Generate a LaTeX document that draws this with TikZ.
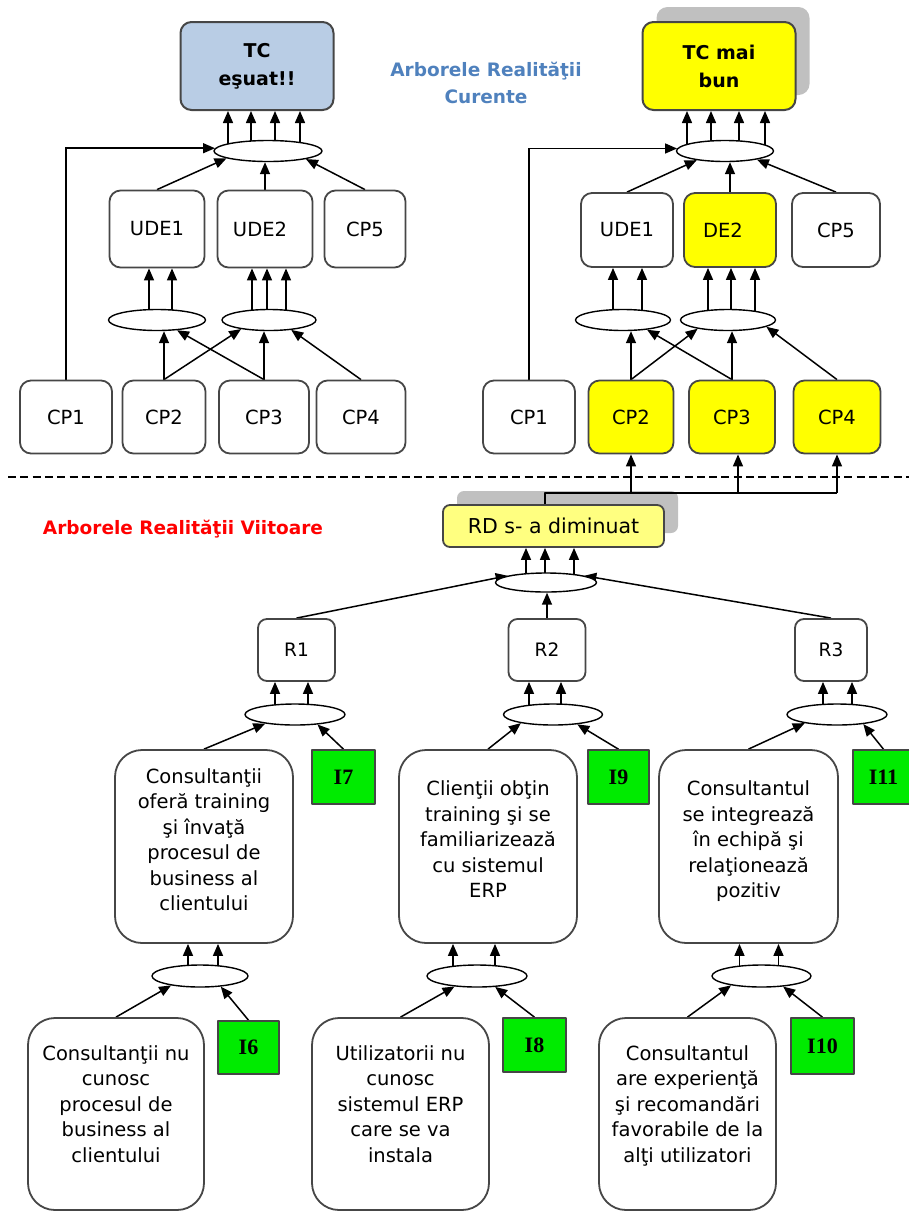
\documentclass[tikz,border=0pt]{standalone}
\usepackage{fontspec}
\setmainfont{DejaVu Sans}
\newfontfamily\ilabel{Liberation Serif}
\usetikzlibrary{shapes.geometric,arrows.meta,shadows,backgrounds,calc}

\definecolor{tcblue}{RGB}{185,205,229}
\definecolor{hiyellow}{RGB}{255,255,0}
\definecolor{paleyellow}{RGB}{255,255,128}
\definecolor{injgreen}{RGB}{0,235,0}
\definecolor{titleblue}{RGB}{79,129,189}
\definecolor{boxline}{RGB}{70,70,70}
\definecolor{shadowgray}{RGB}{192,192,192}

\tikzset{
  box/.style={draw=boxline, line width=1.8pt, rounded corners=11pt, fill=white,
    inner sep=0pt, align=center, font=\fontsize{19.5}{25.5}\selectfont},
  bigbox/.style={box, rounded corners=27pt},
  tcbox/.style={box, line width=2pt, minimum width=153pt, minimum height=88pt,
    font=\bfseries\fontsize{19}{28}\selectfont},
  junction/.style={ellipse, draw=black, line width=1.4pt, fill=white,
    inner sep=0pt, minimum height=21pt},
  inj/.style={draw=boxline, line width=1.6pt, fill=injgreen, inner sep=0pt,
    font=\ilabel\bfseries\fontsize{22}{22}\selectfont},
  arr/.style={-{Triangle[length=12pt,width=10pt]}, line width=1.5pt},
  grayshadow/.style={copy shadow={shadow xshift=14pt, shadow yshift=#1,
    fill=shadowgray, draw=none}},
}

% vertical arrows from a junction up to the box above it
\newcommand{\uparrows}[3]{%
  \foreach \dx in {#3} {
    \coordinate (p) at ($(#1)+(\dx,0)$);
    \draw[arr] (p) -- (p |- #2.south);
  }}

\begin{document}
\begin{tikzpicture}[x=1pt,y=-1pt,line join=round]
\useasboundingbox (0,0) rectangle (909,1211);

% current reality tree
\node[tcbox, fill=tcblue] (tcL) at (257,66) {TC\\eşuat!!};
\node[junction, minimum width=108pt] (elTL) at (268,151) {};
\node[box, minimum width=95pt, minimum height=77pt] (udeL1) at (157,229) {UDE1};
\node[box, minimum width=95pt, minimum height=77pt] (udeL2) at (265,229) {UDE2\hspace*{10pt}};
\node[box, minimum width=81pt, minimum height=77pt] (cp5L) at (365,229) {CP5};
\node[junction, minimum width=97pt] (elL1) at (157,320) {};
\node[junction, minimum width=94pt] (elL2) at (269,320) {};
\node[box, minimum width=92pt, minimum height=73pt] (cpL1) at (66,417) {CP1};
\node[box, minimum width=83pt, minimum height=73pt] (cpL2) at (164,417) {CP2};
\node[box, minimum width=90pt, minimum height=73pt] (cpL3) at (264,417) {CP3};
\node[box, minimum width=89pt, minimum height=73pt] (cpL4) at (361,417) {CP4};

\node[font=\bfseries\fontsize{18.5}{26.5}\selectfont, text=titleblue, align=center]
  (curTitle) at (486,83) {Arborele Realităţii\\Curente};

% improved tree
\node[tcbox, fill=hiyellow, grayshadow=15pt] (tcR) at (719,66) {TC mai\\bun};
\node[junction, minimum width=97pt] (elTR) at (725,151) {};
\node[box, minimum width=92pt, minimum height=74pt] (udeR1) at (627,230) {UDE1};
\node[box, fill=hiyellow, minimum width=92pt, minimum height=74pt] (de2) at (730,230) {DE2\hspace*{14pt}};
\node[box, minimum width=88pt, minimum height=74pt] (cp5R) at (836,230) {CP5};
\node[junction, minimum width=95pt] (elR1) at (623,320) {};
\node[junction, minimum width=95pt] (elR2) at (728,320) {};
\node[box, minimum width=92pt, minimum height=73pt] (cpR1) at (529,417) {CP1};
\node[box, fill=hiyellow, minimum width=85pt, minimum height=73pt] (cpR2) at (631,417) {CP2};
\node[box, fill=hiyellow, minimum width=86pt, minimum height=73pt] (cpR3) at (732,417) {CP3};
\node[box, fill=hiyellow, minimum width=87pt, minimum height=73pt] (cpR4) at (837,417) {CP4};

\draw[line width=1.8pt, dash pattern=on 8pt off 4.3pt] (8,477) -- (909,477);

% future reality tree
\node[font=\bfseries\fontsize{18.5}{22}\selectfont, text=red] (futTitle) at (183,529)
  {Arborele Realităţii Viitoare};

\node[box, fill=paleyellow, rounded corners=7pt, grayshadow=14pt, minimum width=221pt,
  minimum height=42pt, font=\fontsize{20.5}{24}\selectfont] (rd) at (553.5,526) {RD s- a diminuat};
\node[junction, minimum width=101pt, minimum height=19pt] (elRD) at (546,582.5) {};
\node[box, rounded corners=9pt, minimum width=77pt, minimum height=62pt,
  font=\fontsize{18.5}{22}\selectfont] (r1) at (296.5,650) {R1};
\node[box, rounded corners=9pt, minimum width=77pt, minimum height=62pt,
  font=\fontsize{18.5}{22}\selectfont] (r2) at (547,650) {R2};
\node[box, rounded corners=9pt, minimum width=72pt, minimum height=62pt,
  font=\fontsize{18.5}{22}\selectfont] (r3) at (831,650) {R3};

\node[junction, minimum width=100pt] (elA) at (295,714.5) {};
\node[junction, minimum width=99pt] (elB) at (553,714.5) {};
\node[junction, minimum width=100pt] (elC) at (837,714.5) {};

\node[bigbox, text depth=14pt, minimum width=178pt, minimum height=193pt] (boxA) at (204,846.5)
  {Consultanţii\\oferă training\\şi învaţă\\procesul de\\business al\\clientului};
\node[bigbox, text depth=14pt, minimum width=178pt, minimum height=193pt] (boxB) at (488,846.5)
  {Clienţii obţin\\training şi se\\familiarizează\\cu sistemul\\ERP};
\node[bigbox, text depth=14pt, minimum width=179pt, minimum height=193pt] (boxC) at (748.5,846.5)
  {Consultantul\\se integrează\\în echipă şi\\relaţionează\\pozitiv};
\node[inj, minimum width=63pt, minimum height=54pt] (i7) at (343.5,777) {I7};
\node[inj, minimum width=61pt, minimum height=54pt] (i9) at (618.5,777) {I9};
\node[inj, minimum width=61pt, minimum height=54pt] (i11) at (883.5,777) {I11};

\node[junction, minimum width=96pt, minimum height=22pt] (elD) at (200,976) {};
\node[junction, minimum width=100pt, minimum height=22pt] (elE) at (477,976) {};
\node[junction, minimum width=99pt, minimum height=22pt] (elF) at (761.5,976) {};

\node[bigbox, text depth=20pt, minimum width=176pt, minimum height=192pt] (boxD) at (116,1114)
  {Consultanţii nu\\cunosc\\procesul de\\business al\\clientului};
\node[bigbox, text depth=20pt, minimum width=177pt, minimum height=192pt] (boxE) at (400.5,1114)
  {Utilizatorii nu\\cunosc\\sistemul ERP\\care se va\\instala};
\node[bigbox, text depth=20pt, minimum width=177pt, minimum height=192pt] (boxF) at (687.5,1114)
  {Consultantul\\are experienţă\\şi recomandări\\favorabile de la\\alţi utilizatori};
\node[inj, minimum width=61pt, minimum height=53pt] (i6) at (248.5,1047.5) {I6};
\node[inj, minimum width=63pt, minimum height=54pt] (i8) at (534.5,1045) {I8};
\node[inj, minimum width=63pt, minimum height=56pt] (i10) at (822.5,1046) {I10};

\begin{scope}[on background layer]
\uparrows{elTL}{tcL}{-40,-17,7,32}
\draw[arr] (cpL1.north) |- (elTL.177);
\draw[arr] (udeL1.north) -- (elTL.190);
\draw[arr] (udeL2.north) -- (udeL2.north |- elTL.south);
\draw[arr] (cp5L.north) -- (elTL.348);
\uparrows{elL1}{udeL1}{-8,15}
\uparrows{elL2}{udeL2}{-17,-2,17}
\draw[arr] (cpL2.north) -- (cpL2.north |- elL1.south);
\draw[arr] (cpL2.north) -- (elL2.198);
\draw[arr] (cpL3.north) -- (elL1.333);
\draw[arr] (cpL3.north) -- (cpL3.north |- elL2.south);
\draw[arr] (cpL4.north) -- (elL2.336);

\uparrows{elTR}{tcR}{-38,-14,14,40}
\draw[arr] (cpR1.north) |- (elTR.177);
\draw[arr] (udeR1.north) -- (elTR.198);
\draw[arr] (de2.north) -- (de2.north |- elTR.south);
\draw[arr] (cp5R.north) -- (elTR.345);
\uparrows{elR1}{udeR1}{-10,19}
\uparrows{elR2}{de2}{-20,3,27}
\draw[arr] (cpR2.north) -- (cpR2.north |- elR1.south);
\draw[arr] (cpR2.north) -- (elR2.196);
\draw[arr] (cpR3.north) -- (elR1.338);
\draw[arr] (cpR3.north) -- (cpR3.north |- elR2.south);
\draw[arr] (cpR4.north) -- (elR2.350);

\uparrows{elRD}{rd}{-20,-1,28}
\draw[arr] (r1.north) -- (elRD.170);
\draw[arr] (r2.north) -- (r2.north |- elRD.south);
\draw[arr] (r3.north) -- (elRD.10);
\uparrows{elA}{r1}{-20,13}
\uparrows{elB}{r2}{-24,8}
\uparrows{elC}{r3}{-14,15}
\draw[arr] (boxA.north) -- (elA.197);
\draw[arr] (i7.north) -- (elA.336);
\draw[arr] (boxB.north) -- (elB.195);
\draw[arr] (i9.north) -- (elB.338);
\draw[arr] (boxC.north) -- (elC.195);
\draw[arr] (i11.north) -- (elC.340);
\uparrows{elD}{boxA}{-12,18}
\uparrows{elE}{boxB}{-24,18}
\uparrows{elF}{boxC}{-22,17}
\draw[arr] (boxD.north) -- (elD.198);
\draw[arr] (i6.north) -- (elD.333);
\draw[arr] (boxE.north) -- (elE.205);
\draw[arr] (i8.north) -- (elE.329);
\draw[arr] (boxF.north) -- (elF.197);
\draw[arr] (i10.north) -- (elF.334);
\end{scope}

% RD feeds back into the improved causes
\coordinate (jn) at (545,493);
\coordinate (c3) at ([xshift=6pt]cpR3.south);
\draw[line width=1.5pt] (jn |- rd.north) -- (jn) -- (jn -| cpR4.south);
\draw[arr] (jn -| cpR2.south) -- (cpR2.south);
\draw[arr] (jn -| c3) -- (c3);
\draw[arr] (jn -| cpR4.south) -- (cpR4.south);
\end{tikzpicture}
\end{document}
